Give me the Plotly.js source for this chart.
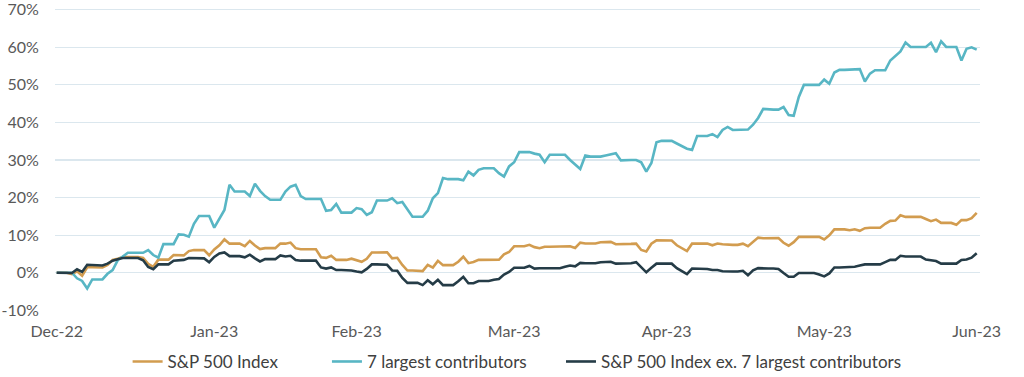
<!DOCTYPE html>
<html>
<head>
<meta charset="utf-8">
<script src="https://cdn.plot.ly/plotly-3.0.1.min.js"></script>
<style>
  html, body { margin: 0; padding: 0; background: #ffffff; }
  #chart { width: 1024px; height: 377px; }
</style>
</head>
<body>
<div id="chart"></div>
<script>
// Calendar days from 31 Dec 2022 to 30 Jun 2023 (182 points)
const startDate = "2022-12-31";
const dayCount = 182;

const seriesNames = ["S&P 500 Index", "7 largest contributors", "S&P 500 Index ex. 7 largest contributors"];

// Cumulative return (%)
const sp500 = [
  0, 0, 0, -0.40, 0.35, -0.82, 1.45, 1.45, 1.45, 1.37,
  2.08, 3.39, 3.74, 4.16, 4.16, 4.16, 4.16, 3.95, 2.33, 1.55,
  3.47, 3.47, 3.47, 4.70, 4.62, 4.60, 5.75, 6.02, 6.02, 6.02,
  4.64, 6.18, 7.29, 8.86, 7.73, 7.73, 7.73, 7.07, 8.45, 7.25,
  6.30, 6.54, 6.54, 6.54, 7.76, 7.73, 8.02, 6.53, 6.24, 6.24,
  6.24, 6.24, 4.11, 3.95, 4.50, 3.40, 3.40, 3.40, 3.72, 3.40,
  2.91, 3.69, 5.37, 5.37, 5.37, 5.44, 3.83, 3.97, 2.05, 0.58,
  0.58, 0.58, 0.42, 2.08, 1.37, 3.15, 2.01, 2.01, 2.01, 2.92,
  4.25, 2.54, 2.84, 3.42, 3.42, 3.42, 3.59, 3.43, 4.90, 5.50,
  7.03, 7.03, 7.03, 7.42, 6.80, 6.53, 6.92, 6.92, 6.92, 6.92,
  7.02, 7.02, 6.58, 7.99, 7.77, 7.77, 7.77, 8.12, 8.21, 8.20,
  7.56, 7.66, 7.66, 7.66, 7.75, 6.05, 5.64, 7.71, 8.59, 8.59,
  8.59, 8.55, 7.29, 6.54, 5.77, 7.73, 7.73, 7.73, 7.78, 7.28,
  7.77, 7.58, 7.41, 7.41, 7.41, 7.73, 7.04, 8.32, 9.34, 9.18,
  9.18, 9.18, 9.20, 7.97, 7.18, 8.12, 9.53, 9.53, 9.53, 9.53,
  9.53, 8.86, 9.94, 11.53, 11.53, 11.53, 11.31, 11.57, 11.15, 11.84,
  11.96, 11.96, 11.96, 13.01, 13.79, 13.88, 15.27, 14.85, 14.85, 14.85,
  14.85, 14.30, 13.70, 14.13, 13.25, 13.25, 13.25, 12.74, 14.04, 14.00,
  14.51, 15.91
];

const top7 = [
  0, 0, 0, 0, -1.5, -2.2, -4.2, -1.8, -1.8, -1.8,
  -0.3, 0.7, 3.3, 4.4, 5.3, 5.3, 5.3, 5.3, 6.0, 4.7,
  4.0, 7.6, 7.6, 7.6, 10.2, 10.1, 9.6, 13.0, 15.1, 15.1,
  15.1, 12.0, 14.5, 16.7, 23.4, 21.6, 21.6, 21.6, 20.4, 23.7,
  21.8, 20.4, 19.4, 19.4, 19.4, 21.6, 22.9, 23.4, 20.4, 19.6,
  19.6, 19.6, 19.6, 16.5, 16.7, 18.3, 16.0, 16.0, 16.0, 17.2,
  16.9, 15.4, 16.1, 19.2, 19.2, 19.2, 19.8, 18.5, 18.8, 16.7,
  14.9, 14.9, 14.9, 16.5, 19.8, 21.2, 25.2, 24.9, 24.9, 24.9,
  24.6, 26.9, 25.9, 27.4, 27.8, 27.8, 27.8, 26.5, 25.6, 28.3,
  29.4, 32.1, 32.1, 32.1, 31.7, 31.4, 29.4, 31.4, 31.4, 31.4,
  31.4, 30.0, 28.7, 27.6, 31.2, 30.9, 30.9, 30.9, 31.2, 31.4,
  31.8, 29.9, 30.0, 30.0, 30.0, 29.4, 26.9, 29.2, 34.7, 35.1,
  35.1, 35.1, 34.4, 33.7, 33.0, 32.7, 36.4, 36.4, 36.4, 36.9,
  36.1, 38.0, 38.8, 38.0, 38.0, 38.0, 38.1, 39.4, 41.2, 43.6,
  43.4, 43.4, 43.4, 44.1, 42.0, 41.8, 46.8, 50.0, 50.0, 50.0,
  50.0, 51.4, 50.3, 53.3, 54.0, 54.0, 54.0, 54.1, 54.2, 50.9,
  53.0, 53.9, 53.9, 53.9, 56.5, 57.8, 58.9, 61.3, 60.1, 60.1,
  60.1, 60.1, 61.2, 58.7, 61.6, 60.1, 60.1, 60.1, 56.5, 59.6,
  60.0, 59.4
];

const sp500ex7 = [
  0, 0, 0, -0.1, 0.9, 0.2, 2.1, 2.1, 2.1, 1.9,
  2.4, 3.2, 3.6, 3.9, 3.9, 3.9, 3.9, 3.3, 1.5, 0.9,
  2.2, 2.2, 2.2, 3.2, 3.3, 3.4, 3.9, 3.8, 3.8, 3.8,
  2.8, 4.2, 5.1, 5.4, 4.4, 4.4, 4.4, 4.1, 4.8, 3.8,
  3.0, 3.6, 3.6, 3.6, 4.6, 4.3, 4.5, 3.4, 3.2, 3.2,
  3.2, 3.2, 1.4, 1.1, 1.4, 0.7, 0.7, 0.7, 0.6, 0.3,
  0.1, 1.0, 2.2, 2.2, 2.2, 2.1, 0.6, 0.5, -1.4, -2.7,
  -2.7, -2.7, -3.3, -2.0, -3.1, -1.9, -3.3, -3.3, -3.3, -2.3,
  -1.1, -2.8, -2.8, -2.2, -2.2, -2.2, -1.9, -1.7, -0.5, 0.2,
  1.3, 1.3, 1.3, 1.8, 1.1, 1.2, 1.2, 1.2, 1.2, 1.2,
  1.6, 1.9, 1.7, 2.6, 2.5, 2.5, 2.5, 2.8, 2.9, 2.9,
  2.4, 2.5, 2.5, 2.5, 2.8, 1.3, 0.1, 1.3, 2.4, 2.4,
  2.4, 2.4, 1.2, 0.3, -0.4, 1.1, 1.1, 1.1, 1.0, 0.7,
  0.7, 0.4, 0.3, 0.3, 0.3, 0.5, -0.7, 0.6, 1.2, 1.1,
  1.1, 1.1, 1.0, -0.1, -1.1, -1.1, -0.1, -0.1, -0.1, -0.1,
  -0.5, -1.0, -0.2, 1.4, 1.4, 1.4, 1.4, 1.6, 1.9, 2.2,
  2.2, 2.2, 2.2, 2.8, 3.4, 3.4, 4.5, 4.3, 4.3, 4.3,
  4.3, 3.5, 3.3, 3.1, 2.4, 2.4, 2.4, 2.4, 3.4, 3.5,
  4.0, 5.2
];

const xTickDates = ["2022-12-31", "2023-01-31", "2023-02-28", "2023-03-31", "2023-04-30", "2023-05-31", "2023-06-30"];
const xTickLabels = ["Dec-22", "Jan-23", "Feb-23", "Mar-23", "Apr-23", "May-23", "Jun-23"];
const yTickValues = [-10, 0, 10, 20, 30, 40, 50, 60, 70];
const yTickLabels = ["-10%", "0%", "10%", "20%", "30%", "40%", "50%", "60%", "70%"];

const colors = ["#D29C4F", "#58B6C4", "#253C47"];

// build the date list for the x axis
const dates = [];
for (let i = 0; i < dayCount; i++) {
  const d = new Date(startDate + "T00:00:00Z");
  d.setUTCDate(d.getUTCDate() + i);
  dates.push(d.toISOString().slice(0, 10));
}

const legendIds = ["legend", "legend2", "legend3"];
const legendX = [0.0785, 0.2940, 0.5470];

const seriesValues = [sp500, top7, sp500ex7];
const traces = seriesValues.map((vals, k) => ({
  type: "scatter",
  mode: "lines",
  x: dates,
  y: vals,
  name: seriesNames[k],
  legend: legendIds[k],
  line: { color: colors[k], width: 2.6 },
  hoverinfo: "skip"
}));

const xRange = ["2022-12-30 16:00", "2023-06-30 15:36"];
const gridColor = "#dbe7ee";
const fontFamily = "Lato, 'Open Sans', sans-serif";

function legendBox(xPos) {
  return {
    orientation: "h",
    x: xPos, xanchor: "left",
    y: -0.167, yanchor: "middle",
    font: { family: fontFamily, size: 17, color: "#404040" },
    itemwidth: 30,
    bgcolor: "rgba(0,0,0,0)"
  };
}

const layout = {
  width: 1024,
  height: 377,
  margin: { l: 55, r: 44, t: 6, b: 66, autoexpand: false },
  paper_bgcolor: "#ffffff",
  plot_bgcolor: "#ffffff",
  font: { family: fontFamily, size: 16, color: "#595959" },
  showlegend: true,
  legend: legendBox(legendX[0]),
  legend2: legendBox(legendX[1]),
  legend3: legendBox(legendX[2]),
  xaxis: {
    type: "date",
    range: xRange,
    tickvals: xTickDates,
    ticktext: xTickLabels,
    showgrid: false,
    zeroline: false,
    showline: false,
    ticks: "outside",
    ticklen: 6,
    tickcolor: "rgba(0,0,0,0)",
    automargin: false,
    ticklabeloverflow: "allow",
    tickfont: { family: fontFamily, size: 16, color: "#595959" }
  },
  xaxis2: {
    type: "date",
    overlaying: "x",
    anchor: "free",
    position: 0.1254,
    range: xRange,
    tickvals: xTickDates,
    ticks: "outside",
    ticklen: 5,
    tickwidth: 1,
    tickcolor: "#cfdde6",
    showticklabels: false,
    showgrid: false,
    zeroline: false,
    showline: false,
    automargin: false
  },
  yaxis: {
    range: [-10.2, 71.0],
    tickvals: yTickValues,
    ticktext: yTickLabels,
    showgrid: true,
    gridcolor: gridColor,
    gridwidth: 1.2,
    zeroline: false,
    showline: false,
    ticks: "outside",
    ticklen: 12,
    tickcolor: "rgba(0,0,0,0)",
    automargin: false,
    ticklabeloverflow: "allow",
    tickfont: { family: fontFamily, size: 16, color: "#595959" }
  }
};

Plotly.newPlot("chart", traces, layout, { staticPlot: true, displayModeBar: false });
</script>
</body>
</html>
